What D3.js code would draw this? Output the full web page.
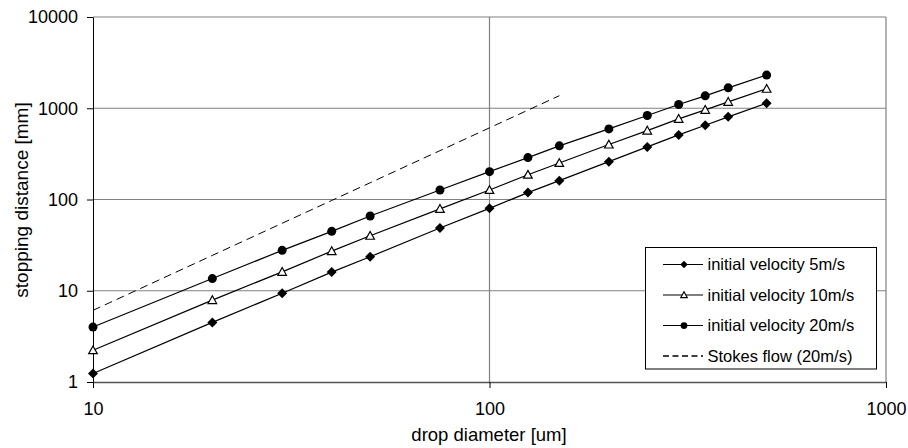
<!DOCTYPE html>
<html>
<head>
<meta charset="utf-8">
<script src="https://cdn.jsdelivr.net/npm/d3@7"></script>
<style>
  body { margin: 0; background: #fff; }
  svg { font-family: "Liberation Sans", Arial, sans-serif; }
</style>
</head>
<body>
<svg id="chart" width="908" height="448"></svg>
<script>
// drop diameters [um]
const diameters = [10, 20, 30, 40, 50, 75, 100, 125, 150, 200, 250, 300, 350, 400, 500];
// stopping distance [mm]
const v5 = [1.24, 4.5, 9.4, 16, 23.6, 48.7, 80, 119, 161, 260, 377, 510, 652, 805, 1137];
const v10 = [2.23, 7.9, 16.1, 27.2, 40, 79, 127, 187, 251, 400, 569, 765, 960, 1175, 1633];
const v20 = [4.0, 13.6, 27.7, 44.8, 65.9, 127, 202, 288, 387, 594, 832, 1098, 1368, 1675, 2308];
const stokesD = [10, 20, 30, 40, 50, 75, 100, 125, 150];
const stokes = [6.1, 24.4, 54.9, 97.6, 152.5, 343, 610, 953, 1372];
const xTicks = [10, 100, 1000];
const yTicks = [1, 10, 100, 1000, 10000];

const SVG = d3.select("#chart");
const LEFT = 93, RIGHT = 886, TOP = 17, BOTTOM = 382;

const X = d3.scaleLog().domain([10, 1000]).range([LEFT, RIGHT]);
const Y = d3.scaleLog().domain([1, 10000]).range([BOTTOM, TOP]);

// grid
SVG.append("g").selectAll("line").data(yTicks.slice(1)).join("line")
  .attr("x1", LEFT).attr("x2", RIGHT)
  .attr("y1", (d) => Y(d)).attr("y2", (d) => Y(d))
  .attr("stroke", "#808080").attr("stroke-width", 1.2);
SVG.append("g").selectAll("line").data(xTicks.slice(1)).join("line")
  .attr("x1", (d) => X(d)).attr("x2", (d) => X(d))
  .attr("y1", TOP).attr("y2", BOTTOM)
  .attr("stroke", "#808080").attr("stroke-width", 1.2);

// axes
const Y_AXIS = d3.axisLeft(Y).tickValues(yTicks).tickFormat(d3.format("d"))
  .tickSizeInner(6).tickSizeOuter(0).tickPadding(9);
const Y_AXIS_G = SVG.append("g").attr("transform", `translate(${LEFT},0)`);
Y_AXIS(Y_AXIS_G);
const X_AXIS = d3.axisBottom(X).tickValues(xTicks).tickFormat(d3.format("d"))
  .tickSizeInner(6).tickSizeOuter(0).tickPadding(14);
const X_AXIS_G = SVG.append("g").attr("transform", `translate(0,${BOTTOM})`);
X_AXIS(X_AXIS_G);
[Y_AXIS_G, X_AXIS_G].forEach((g) => {
  g.selectAll("text").style("font-size", "18px").attr("fill", "#000");
  g.selectAll("line").attr("stroke", "#000");
  g.select(".domain").attr("stroke", "#000");
});
X_AXIS_G.select(".domain").attr("stroke", "#555").attr("stroke-width", 1.3);

// axis titles
SVG.append("text").attr("x", (LEFT + RIGHT) / 2 - 0.5).attr("y", 441)
  .attr("text-anchor", "middle").style("font-size", "18.5px").text("drop diameter [um]");
SVG.append("text").attr("transform", "translate(28,200) rotate(-90)")
  .attr("text-anchor", "middle").style("font-size", "19px").text("stopping distance [mm]");

const line = d3.line().x((d) => X(d[0])).y((d) => Y(d[1]));

// stokes
SVG.append("path").datum(d3.zip(stokesD, stokes)).attr("d", line)
  .attr("fill", "none").attr("stroke", "#000").attr("stroke-width", 1)
  .attr("stroke-dasharray", "8,5");

const series = [
  { name: "initial velocity 5m/s", values: v5, marker: "diamond" },
  { name: "initial velocity 10m/s", values: v10, marker: "triangle" },
  { name: "initial velocity 20m/s", values: v20, marker: "circle" },
];

function drawMarker(g, type, x, y, scale) {
  const s = scale || 1;
  if (type === "circle") {
    g.append("circle").attr("cx", x).attr("cy", y).attr("r", 4.5 * s).attr("fill", "#000");
  } else if (type === "diamond") {
    const r = 5 * s;
    g.append("path").attr("d", `M${x},${y - r}L${x + r},${y}L${x},${y + r}L${x - r},${y}Z`)
      .attr("fill", "#000");
  } else {
    const r = 4.3 * s;
    g.append("path").attr("d", `M${x},${y - r}L${x + r},${y + r * 0.8}L${x - r},${y + r * 0.8}Z`)
      .attr("fill", "#fff").attr("stroke", "#000").attr("stroke-width", 1.2);
  }
}

series.forEach((s) => {
  const pts = d3.zip(diameters, s.values);
  SVG.append("path").datum(pts).attr("d", line)
    .attr("fill", "none").attr("stroke", "#000").attr("stroke-width", 1.2);
  const g = SVG.append("g");
  pts.forEach((p) => drawMarker(g, s.marker, X(p[0]), Y(p[1])));
});

// legend
const LG = SVG.append("g");
LG.append("rect").attr("x", 645.5).attr("y", 247.5).attr("width", 231).attr("height", 121.5)
  .attr("fill", "#fff").attr("stroke", "#000").attr("stroke-width", 1);
const legendItems = series.concat([{ name: "Stokes flow (20m/s)", marker: null }]);
legendItems.forEach((s, i) => {
  const cy = 264.5 + i * 30.5;
  const l = LG.append("line").attr("x1", 663).attr("x2", 703).attr("y1", cy).attr("y2", cy)
    .attr("stroke", "#000");
  if (s.marker) {
    l.attr("stroke-width", 1.2);
    drawMarker(LG, s.marker, 684, cy, 0.75);
  } else {
    l.attr("stroke-width", 1.6).attr("stroke-dasharray", "6,3.5");
  }
  LG.append("text").attr("x", 707.5).attr("y", cy).attr("dy", "0.36em")
    .style("font-size", "16.5px").text(s.name);
});
</script>
</body>
</html>
